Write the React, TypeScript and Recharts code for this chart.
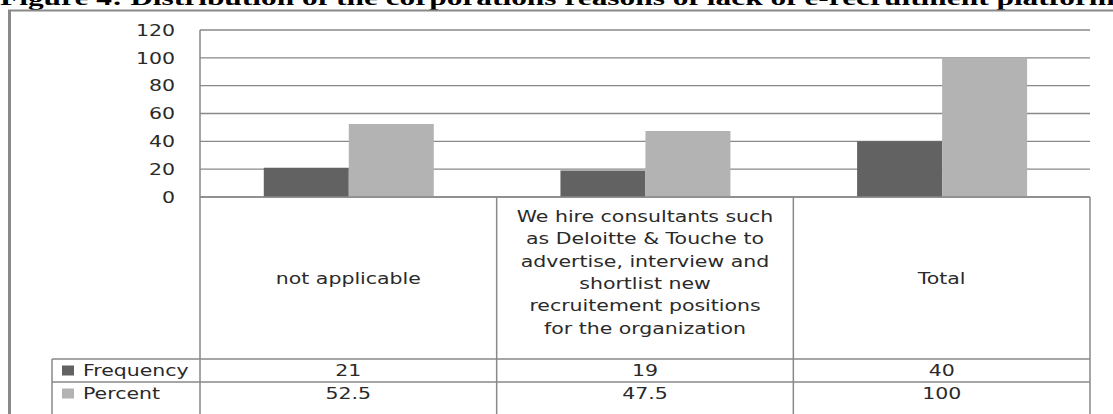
import { BarChart, Bar, XAxis, YAxis, CartesianGrid } from 'recharts'

const categories = [
  'not applicable',
  'We hire consultants such\nas Deloitte & Touche to\nadvertise, interview and\nshortlist new\nrecruitement positions\nfor the organization',
  'Total',
]
const frequency = [21, 19, 40]
const percent = [52.5, 47.5, 100]
const yTicks = [0, 20, 40, 60, 80, 100, 120]
const seriesNames = ['Frequency', 'Percent']

const TITLE = 'Figure 4: Distribution of the corporations reasons of lack of e-recruitment platform'

const W = 1113
const H = 414
const PLOT_LEFT = 200
const PLOT_RIGHT = 1090
const LINE = '#898989'
const TEXT = '#2a2a2a'
const DARK = '#626262'
const LIGHT = '#b3b3b3'
const FONT = "'DejaVu Sans', Verdana, sans-serif"
const SX = 1.28

const data = categories.map((name, i) => ({ name, frequency: frequency[i], percent: percent[i] }))

function Stretched({ x, y, anchor = 'middle', children }: any) {
  return (
    <text
      transform={`translate(${x},${y}) scale(${SX},1)`}
      textAnchor={anchor}
      dy="0.36em"
      fontFamily={FONT}
      fontSize={16}
      fill={TEXT}
    >
      {children}
    </text>
  )
}

function YTick({ y, payload }: any) {
  return <Stretched x={175} y={y} anchor="end">{payload.value}</Stretched>
}

function TableCell({ x, y, payload, index }: any) {
  const band = (PLOT_RIGHT - PLOT_LEFT) / categories.length
  const left = x - band / 2
  const right = x + band / 2
  const row1 = y + 162
  const row2 = y + 185
  const lines = String(payload.value).split('\n')
  const mid = y + (lines.length > 1 ? 75 : 81)
  const lh = 22.4
  return (
    <g>
      {index === 0 && (
        <g>
          <line x1={left} y1={y} x2={left} y2={H} stroke={LINE} strokeWidth={1.5} />
          <line x1={52} y1={row1} x2={left} y2={row1} stroke={LINE} strokeWidth={1.5} />
          <line x1={52} y1={row2} x2={left} y2={row2} stroke={LINE} strokeWidth={1.5} />
          <line x1={52} y1={row1} x2={52} y2={H} stroke={LINE} strokeWidth={1.5} />
          <rect x={62} y={row1 + 6.5} width={12} height={10} fill={DARK} />
          <rect x={62} y={row2 + 6.5} width={12} height={10} fill={LIGHT} />
          <Stretched x={83} y={row1 + 11.5} anchor="start">{seriesNames[0]}</Stretched>
          <Stretched x={83} y={row2 + 11.5} anchor="start">{seriesNames[1]}</Stretched>
        </g>
      )}
      <line x1={right} y1={y} x2={right} y2={H} stroke={LINE} strokeWidth={1.5} />
      <line x1={left} y1={row1} x2={right} y2={row1} stroke={LINE} strokeWidth={1.5} />
      <line x1={left} y1={row2} x2={right} y2={row2} stroke={LINE} strokeWidth={1.5} />
      {lines.map((t, i) => (
        <Stretched key={i} x={x} y={mid + (i - (lines.length - 1) / 2) * lh}>{t}</Stretched>
      ))}
      <Stretched x={x} y={row1 + 11.5}>{frequency[index]}</Stretched>
      <Stretched x={x} y={row2 + 11.5}>{percent[index]}</Stretched>
    </g>
  )
}

export default function App() {
  return (
    <div style={{ position: 'absolute', left: 0, top: 0, width: W, height: H, background: '#fff', overflow: 'hidden' }}>
      <BarChart
        width={W}
        height={H}
        data={data}
        margin={{ top: 30, right: W - PLOT_RIGHT, bottom: 0, left: 0 }}
        barCategoryGap="21.5%"
        barGap={0}
      >
        <CartesianGrid vertical={false} stroke={LINE} strokeWidth={1.3} />
        <XAxis
          dataKey="name"
          height={217}
          interval={0}
          tickSize={0}
          tickMargin={0}
          tickLine={false}
          axisLine={{ stroke: LINE, strokeWidth: 1.5 }}
          tick={<TableCell />}
        />
        <YAxis
          width={PLOT_LEFT}
          domain={[0, 120]}
          ticks={yTicks}
          interval={0}
          tickLine={false}
          axisLine={{ stroke: LINE, strokeWidth: 1.5 }}
          tick={<YTick />}
        />
        <Bar dataKey="frequency" name={seriesNames[0]} fill={DARK} isAnimationActive={false} />
        <Bar dataKey="percent" name={seriesNames[1]} fill={LIGHT} isAnimationActive={false} />
      </BarChart>
      <svg width={W} height={H} style={{ position: 'absolute', left: 0, top: 0, pointerEvents: 'none' }}>
        <text
          x={0}
          y={5}
          fontFamily="'Liberation Serif', 'Times New Roman', serif"
          fontWeight="bold"
          fontSize={20}
          textLength={1115}
          lengthAdjust="spacingAndGlyphs"
          fill="#000"
        >
          {TITLE}
        </text>
        <line x1={8} y1={10.5} x2={W} y2={10.5} stroke={LINE} strokeWidth={1.8} />
        <line x1={9.5} y1={10} x2={9.5} y2={H} stroke={LINE} strokeWidth={3} />
      </svg>
    </div>
  )
}
